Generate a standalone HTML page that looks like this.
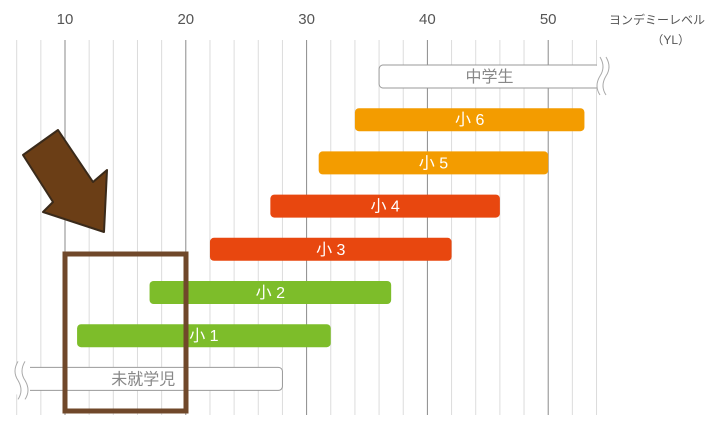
<!DOCTYPE html>
<html><head><meta charset="utf-8">
<style>
html,body{margin:0;padding:0;background:#fff;width:710px;height:422px;overflow:hidden}
svg{display:block;font-family:"Liberation Sans","Noto Sans CJK JP",sans-serif}
</style></head>
<body>
<svg id="chart" width="710" height="422" viewBox="0 0 710 422"></svg>
<script>
const categories = ["中学生","小 6","小 5","小 4","小 3","小 2","小 1","未就学児"];
const startValues = [36,34,31,27,22,17,11,4];
const endValues = [56,53,50,46,42,37,32,28];
const barColors = ["none","#f39c00","#f39c00","#e8470f","#e8470f","#7dbd2a","#7dbd2a","none"];
const tickLabels = [10,20,30,40,50];

const NS="http://www.w3.org/2000/svg";
const svg=document.getElementById('chart');
function x(v){return 65+(v-10)*12.08;}
function yRow(i){return 65+i*43.2;}
function mk(t,a,p){const e=document.createElementNS(NS,t);for(const k in a)e.setAttribute(k,a[k]);(p||svg).appendChild(e);return e;}

const grid=mk('g',{});


for(let v=6;v<=54;v+=2){
  const major=v%10===0;
  const l=mk('line',{x1:x(v),x2:x(v),y1:40,y2:415,stroke:major?'#8a8a8a':'#dcdcdc','stroke-width':1},grid);
  
  
}
tickLabels.forEach(t=>{
  const e=mk('text',{x:x(t),y:24,'text-anchor':'middle','font-size':15,fill:'#555'});
  e.textContent=t;
  
  
});
const u1=mk('text',{x:705,y:24,'text-anchor':'end','font-size':12,fill:'#555'});
u1.textContent='ヨンデミーレベル';


const u2=mk('text',{x:690,y:44,'text-anchor':'end','font-size':12,fill:'#555'});
u2.textContent='（YL）';



categories.forEach((c,i)=>{
  let x0=x(startValues[i]), x1=x(endValues[i]);
  if(i===0) x1=600;
  if(i===categories.length-1) x0=24;
  const y=yRow(i), h=23;
  const g=mk('g',{});
  
  
  const hollow=barColors[i]==='none';
  mk('rect',{x:x0,y:y,width:x1-x0,height:h,rx:4,fill:hollow?'#fff':barColors[i],stroke:hollow?'#999':'none','stroke-width':1},g);
  if(i===0){
    mk('rect',{x:x1-3,y:y-4,width:14,height:h+8,fill:'#fff'},g);
    mk('path',{d:`M${x1} ${y-8} q6 10 0 19 q-6 10 0 19`,fill:'none',stroke:'#aaa'},g);
    mk('path',{d:`M${x1+6} ${y-8} q6 10 0 19 q-6 10 0 19`,fill:'none',stroke:'#aaa'},g);
  }
  if(i===categories.length-1){
    mk('rect',{x:x0-8,y:y-4,width:14,height:h+8,fill:'#fff'},g);
    mk('path',{d:`M${x0-6} ${y-6} q-6 10 0 19 q6 10 0 19`,fill:'none',stroke:'#aaa'},g);
    mk('path',{d:`M${x0+1} ${y-6} q-6 10 0 19 q6 10 0 19`,fill:'none',stroke:'#aaa'},g);
  }
  const t=mk('text',{x:(x0+x1)/2+(i===7?-10:0),y:y+17,'text-anchor':'middle','font-size':16,fill:hollow?'#888':'#fff'},g);
  t.textContent=c;
});

const box=mk('rect',{x:65,y:254,width:121,height:157,fill:'none',stroke:'#70482a','stroke-width':5});


const arrow=mk('polygon',{points:'58,130 23,155 53,202 43,212 104,232 107,170 93,182',fill:'#6b3e16',stroke:'#3a2a1a','stroke-width':2,'stroke-linejoin':'round'});


</script>
</body></html>
